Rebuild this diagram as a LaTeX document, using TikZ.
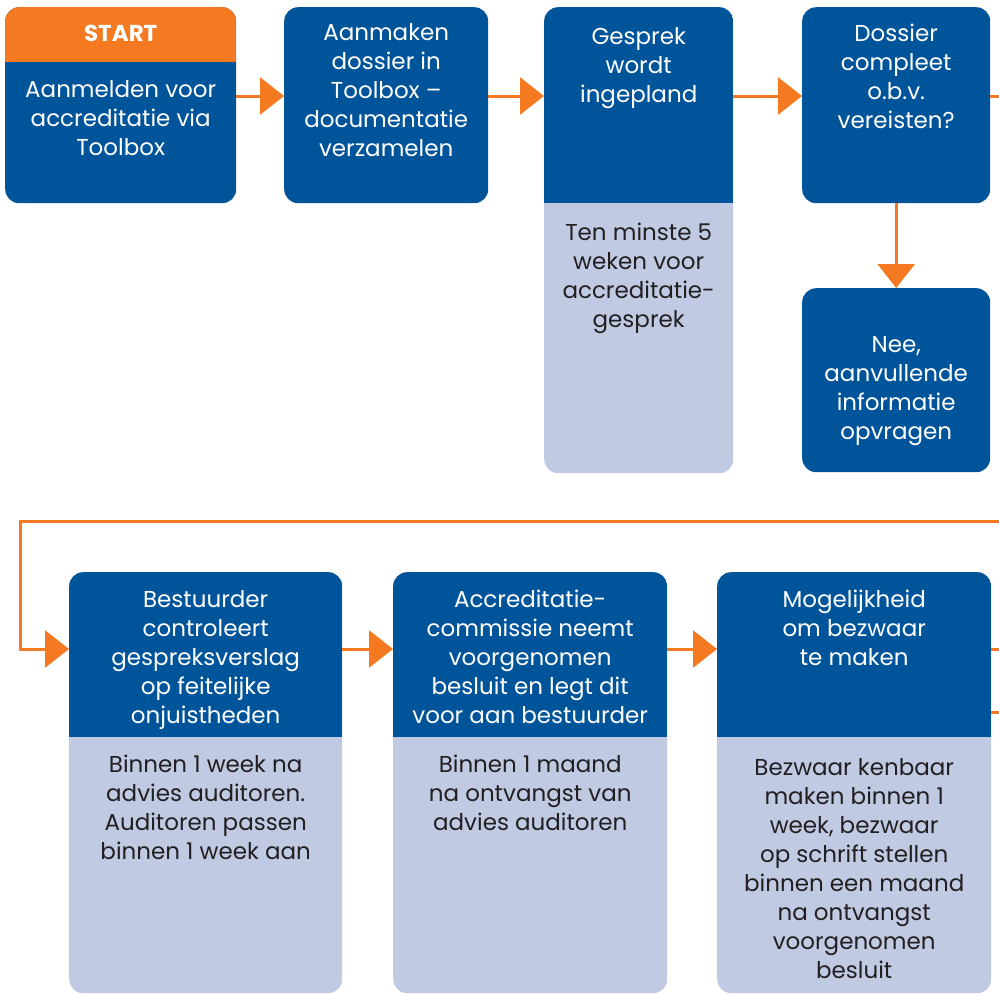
\documentclass[tikz,border=0pt]{standalone}
\usepackage{fontspec}
\setmainfont{Poppins}
\usepackage{tikz}
\usetikzlibrary{arrows.meta,positioning,calc}
\definecolor{tbblue}{HTML}{00549A}
\definecolor{tborange}{HTML}{F47920}
\definecolor{tblight}{HTML}{C0CAE3}
\definecolor{tbdark}{HTML}{231F20}

\begin{document}
\begin{tikzpicture}[x=1pt, y=-1pt,
    stage/.style={rectangle, fill=tbblue, rounded corners=14pt,
        anchor=north west, inner sep=0pt},
    split/.style={fill=tblight, path picture={\fill[tbblue, sharp corners]
        (path picture bounding box.north west) rectangle
        ([yshift=-#1]path picture bounding box.north east);}},
    start/.style={fill=tbblue, path picture={\fill[tborange, sharp corners]
        (path picture bounding box.north west) rectangle
        ([yshift=-#1]path picture bounding box.north east);}},
    lbl/.style={anchor=north, align=center, inner sep=0pt, text=white,
        font=\fontsize{23}{29}\selectfont},
    sub/.style={lbl, text=tbdark},
    line/.style={draw=tborange, line width=3pt, -{Triangle[length=24pt,width=37pt]}},
    plain/.style={draw=tborange, line width=3pt}]

    \useasboundingbox (0,0) rectangle (999,994);

    % ====== Top row ======
    \node [stage, start=55pt, minimum width=231pt, minimum height=196pt] (b1) at (5,7) {};
    \node [stage, minimum width=204pt, minimum height=196pt] (b2) at (284,7) {};
    \node [stage, split=196pt, minimum width=189pt, minimum height=466pt] (b3) at (544,7) {};
    \node [stage, minimum width=188pt, minimum height=196pt] (b4) at (802,7) {};
    \node [stage, minimum width=188pt, minimum height=184pt] (b5) at (802,288) {};

    % ====== Bottom row ======
    \node [stage, split=165pt, minimum width=273pt, minimum height=421pt] (b6) at (69,572) {};
    \node [stage, split=165pt, minimum width=274pt, minimum height=421pt] (b7) at (393,572) {};
    \node [stage, split=165pt, minimum width=274pt, minimum height=421pt] (b8) at (717,572) {};

    % ====== Texts ======
    \node [lbl, font=\fontsize{23}{29}\selectfont\bfseries, below=18pt of b1.north] {START};
    \node [lbl, below=73pt of b1.north] {Aanmelden voor\\accreditatie via\\Toolbox};
    \node [lbl, below=16pt of b2.north] {Aanmaken\\dossier in\\Toolbox –\\documentatie\\verzamelen};
    \node [lbl, below=20pt of b3.north] {Gesprek\\wordt\\ingepland};
    \node [sub, below=216pt of b3.north] {Ten minste 5\\weken voor\\accreditatie-\\gesprek};
    \node [lbl, below=17pt of b4.north] {Dossier\\compleet\\o.b.v.\\vereisten?};
    \node [lbl, below=48pt of b5.north] {Nee,\\aanvullende\\informatie\\opvragen};

    \node [lbl, below=18pt of b6.north] {Bestuurder\\controleert\\gespreksverslag\\op feitelijke\\onjuistheden};
    \node [sub, below=183pt of b6.north] {Binnen 1 week na\\advies auditoren.\\Auditoren passen\\binnen 1 week aan};
    \node [lbl, below=18pt of b7.north] {Accreditatie-\\commissie neemt\\voorgenomen\\besluit en legt dit\\voor aan bestuurder};
    \node [sub, below=183pt of b7.north] {Binnen 1 maand\\na ontvangst van\\advies auditoren};
    \node [lbl, below=18pt of b8.north] {Mogelijkheid\\om bezwaar\\te maken};
    \node [sub, below=186pt of b8.north] {Bezwaar kenbaar\\maken binnen 1\\week, bezwaar\\op schrift stellen\\binnen een maand\\na ontvangst\\voorgenomen\\besluit};

    % ====== Lines ======
    \coordinate (r1) at (0,96);
    \coordinate (r2) at (0,649);
    \coordinate (out1) at (999,96);
    \coordinate (ret) at (999,521);
    \coordinate (bend) at (20,521);
    \coordinate (out2) at (999,649);
    \coordinate (out3) at (999,712);

    \path [line] (b1.east |- r1) -- (b2.west |- r1);
    \path [line] (b2.east |- r1) -- (b3.west |- r1);
    \path [line] (b3.east |- r1) -- (b4.west |- r1);
    \path [plain] (b4.east |- r1) -- (out1);
    \path [line] (b4.south) -- (b5.north);
    \path [line] (ret) -- (bend) |- (b6.west |- r2);
    \path [line] (b6.east |- r2) -- (b7.west |- r2);
    \path [line] (b7.east |- r2) -- (b8.west |- r2);
    \path [plain] (b8.east |- r2) -- (out2);
    \path [plain] (b8.east |- out3) -- (out3);
\end{tikzpicture}
\end{document}
